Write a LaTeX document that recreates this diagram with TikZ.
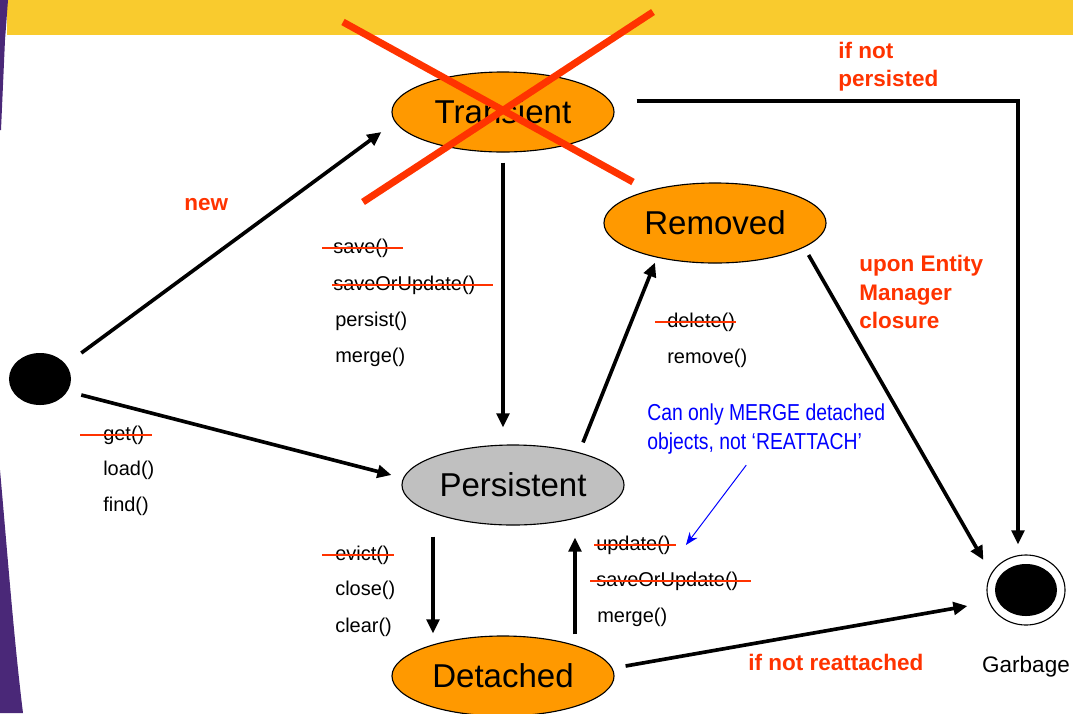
\documentclass[tikz,border=0pt]{standalone}
\usepackage{fontspec}
\setmainfont{Liberation Sans}
\newfontfamily\narrowsans[FakeStretch=0.84]{Liberation Sans}
\usepackage{tikz}
\usetikzlibrary{arrows.meta,positioning,calc,shapes.geometric}
\definecolor{StateOrange}{RGB}{255,153,0}
\definecolor{StateGray}{RGB}{192,192,192}
\definecolor{CrossRed}{RGB}{255,51,0}
\definecolor{BandYellow}{RGB}{249,203,46}
\definecolor{EdgePurple}{RGB}{74,40,120}
\definecolor{NoteBlue}{RGB}{0,0,255}

\begin{document}
\begin{tikzpicture}[x=0.025cm, y=-0.025cm,
  every node/.style={font=\fontsize{14.2}{17}\selectfont, inner sep=0pt},
  statebox/.style={draw, ellipse, line width=0.8pt, fill=StateOrange, minimum width=5.55cm, minimum height=2cm, font=\fontsize{23.5}{28}\selectfont},
  method/.style={anchor=west},
  remark/.style={anchor=west, align=left, text=CrossRed, font=\fontsize{16}{20}\selectfont\bfseries},
  flow/.style={-{Triangle[length=10pt,width=9pt]}, line width=2.6pt},
  strike/.style={draw=CrossRed, line width=2pt}]
\useasboundingbox (0,0) rectangle (1073,713);
% slide background
\fill[BandYellow] (7,0) rectangle (1073,35);
\fill[EdgePurple] (0,0) -- (8,0) -- (5,40) -- (1,130) -- (0,130) -- cycle;
\fill[EdgePurple] (0,470) .. controls (8,560) and (14,640) .. (23,713) -- (0,713) -- cycle;

% states
\node[statebox] (transient) at (503,112) {Transient};
\node[statebox] (removed) at (715,223) {Removed};
\node[statebox, fill=StateGray] (persistent) at (513,485) {Persistent};
\node[statebox] (detached) at (503,676) {Detached};
\node[ellipse, fill=black, minimum width=1.55cm, minimum height=1.3cm] (start) at (40,379) {};
\node[ellipse, draw, line width=0.8pt, fill=white, minimum width=1.95cm, minimum height=1.75cm] (garbage) at (1026,590) {};
\node[ellipse, fill=black, minimum width=1.55cm, minimum height=1.3cm] (garbagecore) at (garbage.center) {};
\node[font=\fontsize{16}{20}\selectfont] (garbagelabel) at (1026,667) {Garbage};

% method lists
\node[method] (get) at (103,435) {get()};
\node[method] (load) at (103,470) {load()};
\node[method] (find) at (103,506) {find()};
\node[method] (save) at (333,248) {save()};
\node[method] (saveorupdate) at (333,285) {saveOrUpdate()};
\node[method] (persist) at (335,321) {persist()};
\node[method] (merge) at (335,357) {merge()};
\node[method] (delete) at (667,322) {delete()};
\node[method] (remove) at (667,358) {remove()};
\node[method] (evict) at (335,555) {evict()};
\node[method] (close) at (335,590) {close()};
\node[method] (clear) at (335,627) {clear()};
\node[method] (update) at (596,545) {update()};
\node[method] (saveorupdatetwo) at (596,581) {saveOrUpdate()};
\node[method] (mergetwo) at (597,617) {merge()};

% remarks
\node[remark] (newlabel) at (184,205) {new};
\node[remark] (notpersisted) at (838,67) {if not\\persisted};
\node[remark] (closure) at (859,292) {upon Entity\\Manager\\closure};
\node[remark] (notreattached) at (748,662) {if not reattached};
\node[anchor=west, align=left, text=NoteBlue, font=\narrowsans\fontsize{16.4}{20}\selectfont] (mergenote) at (647,429) {Can only MERGE detached\\objects, not ‘REATTACH’};

% transitions
\draw[flow] ($(start.east)+(10,-26)$) -- ($(transient.west)+(-10,20)$);
\draw[flow] ($(start.east)+(10,16)$) -- ($(persistent.west)+(-10,-10)$);
\draw[flow] ($(transient.south)+(0,10)$) -- ($(persistent.north)+(-10,-17)$);
\draw[flow] ($(persistent.north)+(70,-2)$) -- ($(removed.south)+(-60,-1)$);
\draw[flow] ($(removed.east)+(-18,32)$) -- ($(garbage.west)+(-3,-30)$);
\draw[flow] ($(transient.east)+(22,-11)$) -| ($(garbage.north)+(-8,-10)$);
\draw[flow] ($(persistent.south)+(-80,11)$) -- ($(detached.north)+(-70,-2)$);
\draw[flow] ($(detached.north)+(72,-1)$) -- ($(persistent.south)+(62,12)$);
\draw[flow] ($(detached.east)+(11,-10)$) -- ($(garbage.west)+(-19,16)$);
\draw[-{Stealth[length=9pt,width=7pt]}, NoteBlue, line width=0.7pt] ($(mergenote.south)+(-20,11)$) -- ($(update.east)+(15,0)$);

% deprecated calls
\foreach \n/\a/\b in {get/-23/7, save/-11/14, saveorupdate/-1/17, delete/-12/1, evict/-13/4, update/-2/5, saveorupdatetwo/-6/12}
  \draw[strike] ($(\n.west)+(\a,0)$) -- ($(\n.east)+(\b,0)$);

% transient is crossed out
\draw[CrossRed, line width=5pt] ($(transient.center)+(-160,-90)$) -- ($(transient.center)+(130,70)$);
\draw[CrossRed, line width=5pt] ($(transient.center)+(-140,90)$) -- ($(transient.center)+(150,-100)$);
\end{tikzpicture}
\end{document}
